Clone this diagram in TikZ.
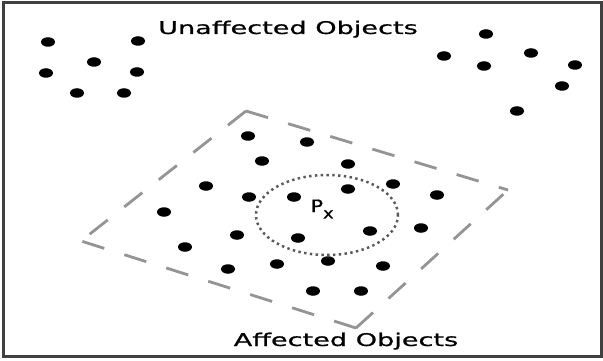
\documentclass[tikz,border=0pt]{standalone}
\usepackage{fontspec}
\setmainfont{DejaVu Sans}
\newfontfamily\lblfont[FakeBold=0.6]{DejaVu Sans}
\usetikzlibrary{shapes.geometric}
\definecolor{framecol}{gray}{0.25}
\definecolor{boxcol}{gray}{0.58}
\definecolor{circcol}{gray}{0.35}
\tikzset{
  obj/.style={ellipse, fill=black, inner sep=0pt, minimum width=14pt, minimum height=9.5pt},
  boxline/.style={draw=boxcol, line width=2.8pt, dash pattern=on 23pt off 21pt},
  label/.style={anchor=base, font=\lblfont\fontsize{17.5}{20}\selectfont, xscale=1.55, inner sep=0pt},
  region/.style={draw=circcol, line width=2.5pt, dash pattern=on 2.4pt off 3.4pt}
}
\begin{document}
\begin{tikzpicture}[x=1pt,y=-1pt]
\useasboundingbox (0,0) rectangle (603,361);
\draw[framecol, line width=3pt] (3.5,3) rectangle (601,356.5);
% labels
\node[label] (top) at (288,34) {Unaffected Objects};
\node[label] (bot) at (346,346) {Affected Objects};
% dashed region
\coordinate (T) at (246,111);
\coordinate (R) at (508,190);
\coordinate (B) at (356,328);
\coordinate (L) at (81,241);
\draw[boxline] (T) -- (L);
\draw[boxline] (T) -- (R);
\draw[boxline] (B) -- (L);
\draw[boxline] (B) -- (R);
% circle
\node[region, ellipse, minimum width=142pt, minimum height=80pt, inner sep=0pt] (circ) at (327,215) {};
\node[anchor=base west, inner sep=0pt, font=\lblfont\fontsize{17}{18}\selectfont, xscale=1.2] (px) at (310.5,212) {P\raisebox{-0.38em}{\fontsize{15}{16}\selectfont x}};
% objects
\foreach \x/\y [count=\i] in {48/42,138/41,94/62,46/73,137/72,77/93,124/93,
  486/34,444/56,531/53,484/66,575/65,562/86,517/111,
  248/136,307/142,262/161,348/164,206/186,393/184,249/197,294/197,348/189,437/195,
  164/212,370/231,421/228,237/235,298/238,185/247,328/261,277/264,228/269,383/266,
  313/291,361/291}
  \node[obj] (o\i) at (\x,\y) {};
\end{tikzpicture}
\end{document}
